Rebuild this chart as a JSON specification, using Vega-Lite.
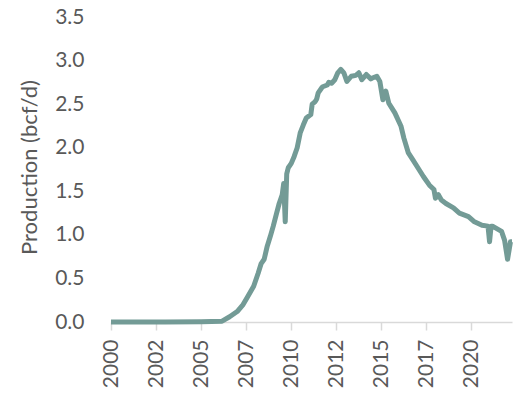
{
  "$schema": "https://vega.github.io/schema/vega-lite/v6.json",
  "width": 401,
  "height": 305,
  "autosize": {"type": "none"},
  "padding": {"left": 111, "top": 17, "right": 2, "bottom": 78},
  "background": "white",
  "config": {
    "view": {"stroke": null},
    "font": "Lato",
    "axis": {"labelFont": "Lato", "titleFont": "Lato", "labelColor": "#595959", "titleColor": "#595959", "grid": false}
  },
  "data": {
    "values": [
      {"date": "2000-01-01", "production": 0.0},
      {"date": "2003-01-01", "production": 0.0},
      {"date": "2005-01-01", "production": 0.003},
      {"date": "2006-03-01", "production": 0.01},
      {"date": "2006-08-01", "production": 0.06},
      {"date": "2007-01-01", "production": 0.12},
      {"date": "2007-05-01", "production": 0.2},
      {"date": "2007-08-01", "production": 0.29},
      {"date": "2007-12-01", "production": 0.41},
      {"date": "2008-03-01", "production": 0.56},
      {"date": "2008-05-01", "production": 0.67},
      {"date": "2008-07-01", "production": 0.72},
      {"date": "2008-09-01", "production": 0.87},
      {"date": "2008-11-01", "production": 0.98},
      {"date": "2009-01-01", "production": 1.1},
      {"date": "2009-03-01", "production": 1.23},
      {"date": "2009-05-01", "production": 1.36},
      {"date": "2009-07-01", "production": 1.46},
      {"date": "2009-08-01", "production": 1.59},
      {"date": "2009-09-01", "production": 1.15},
      {"date": "2009-10-01", "production": 1.7},
      {"date": "2009-11-01", "production": 1.77},
      {"date": "2010-01-01", "production": 1.82},
      {"date": "2010-03-01", "production": 1.9},
      {"date": "2010-05-01", "production": 2.0},
      {"date": "2010-07-01", "production": 2.17},
      {"date": "2010-09-01", "production": 2.26},
      {"date": "2010-11-01", "production": 2.34},
      {"date": "2011-02-01", "production": 2.38},
      {"date": "2011-03-01", "production": 2.5},
      {"date": "2011-05-01", "production": 2.53},
      {"date": "2011-06-01", "production": 2.56},
      {"date": "2011-07-01", "production": 2.63},
      {"date": "2011-09-01", "production": 2.68},
      {"date": "2011-10-01", "production": 2.7},
      {"date": "2012-01-01", "production": 2.72},
      {"date": "2012-02-01", "production": 2.75},
      {"date": "2012-04-01", "production": 2.74},
      {"date": "2012-06-01", "production": 2.78},
      {"date": "2012-08-01", "production": 2.86},
      {"date": "2012-10-01", "production": 2.9},
      {"date": "2012-12-01", "production": 2.86},
      {"date": "2013-02-01", "production": 2.76},
      {"date": "2013-05-01", "production": 2.82},
      {"date": "2013-08-01", "production": 2.83},
      {"date": "2013-10-01", "production": 2.86},
      {"date": "2013-12-01", "production": 2.78},
      {"date": "2014-03-01", "production": 2.84},
      {"date": "2014-06-01", "production": 2.79},
      {"date": "2014-07-01", "production": 2.8},
      {"date": "2014-10-01", "production": 2.82},
      {"date": "2014-12-01", "production": 2.76},
      {"date": "2015-02-01", "production": 2.55},
      {"date": "2015-04-01", "production": 2.65},
      {"date": "2015-06-01", "production": 2.51},
      {"date": "2015-10-01", "production": 2.4},
      {"date": "2016-02-01", "production": 2.25},
      {"date": "2016-04-01", "production": 2.11},
      {"date": "2016-07-01", "production": 1.94},
      {"date": "2016-10-01", "production": 1.86},
      {"date": "2017-02-01", "production": 1.75},
      {"date": "2017-05-01", "production": 1.67},
      {"date": "2017-09-01", "production": 1.57},
      {"date": "2017-12-01", "production": 1.52},
      {"date": "2018-01-01", "production": 1.42},
      {"date": "2018-03-01", "production": 1.46},
      {"date": "2018-05-01", "production": 1.4},
      {"date": "2018-08-01", "production": 1.36},
      {"date": "2019-01-01", "production": 1.31},
      {"date": "2019-05-01", "production": 1.25},
      {"date": "2019-11-01", "production": 1.21},
      {"date": "2020-03-01", "production": 1.15},
      {"date": "2020-08-01", "production": 1.11},
      {"date": "2020-12-01", "production": 1.1},
      {"date": "2021-01-01", "production": 0.92},
      {"date": "2021-02-01", "production": 1.1},
      {"date": "2021-03-01", "production": 1.1},
      {"date": "2021-09-01", "production": 1.04},
      {"date": "2021-11-01", "production": 0.94},
      {"date": "2022-01-01", "production": 0.72},
      {"date": "2022-03-01", "production": 0.92},
      {"date": "2022-04-01", "production": 0.92}
    ]
  },
  "mark": {"type": "line", "color": "#739b96", "strokeWidth": 5, "strokeJoin": "round"},
  "encoding": {
    "x": {
      "field": "date",
      "type": "temporal",
      "scale": {"domain": [{"year": 2000, "month": 1, "date": 1}, {"year": 2022, "month": 4, "date": 1}], "nice": false},
      "axis": {
        "title": null,
        "values": [
          {"year": 2000, "month": 1, "date": 1},
          {"year": 2002, "month": 7, "date": 1},
          {"year": 2005, "month": 1, "date": 1},
          {"year": 2007, "month": 7, "date": 1},
          {"year": 2010, "month": 1, "date": 1},
          {"year": 2012, "month": 7, "date": 1},
          {"year": 2015, "month": 1, "date": 1},
          {"year": 2017, "month": 7, "date": 1},
          {"year": 2020, "month": 1, "date": 1}
        ],
        "format": "%Y",
        "labelAngle": -90,
        "labelFontSize": 21,
        "labelPadding": 9,
        "labelFlush": false,
        "labelOverlap": false,
        "domainColor": "#d9d9d9",
        "domainWidth": 1.5,
        "tickColor": "#d9d9d9",
        "tickWidth": 1.5,
        "tickSize": 8
      }
    },
    "y": {
      "field": "production",
      "type": "quantitative",
      "scale": {"domain": [0, 3.5], "nice": false},
      "axis": {
        "title": "Production (bcf/d)",
        "values": [0, 0.5, 1, 1.5, 2, 2.5, 3, 3.5],
        "format": ".1f",
        "domain": false,
        "ticks": false,
        "tickSize": 0,
        "labelPadding": 27,
        "labelFontSize": 21,
        "titleFontSize": 22,
        "titleFontWeight": "normal",
        "titleAngle": -90,
        "titleAlign": "center",
        "titleBaseline": "alphabetic",
        "titleX": -75,
        "titleY": 150
      }
    }
  }
}
